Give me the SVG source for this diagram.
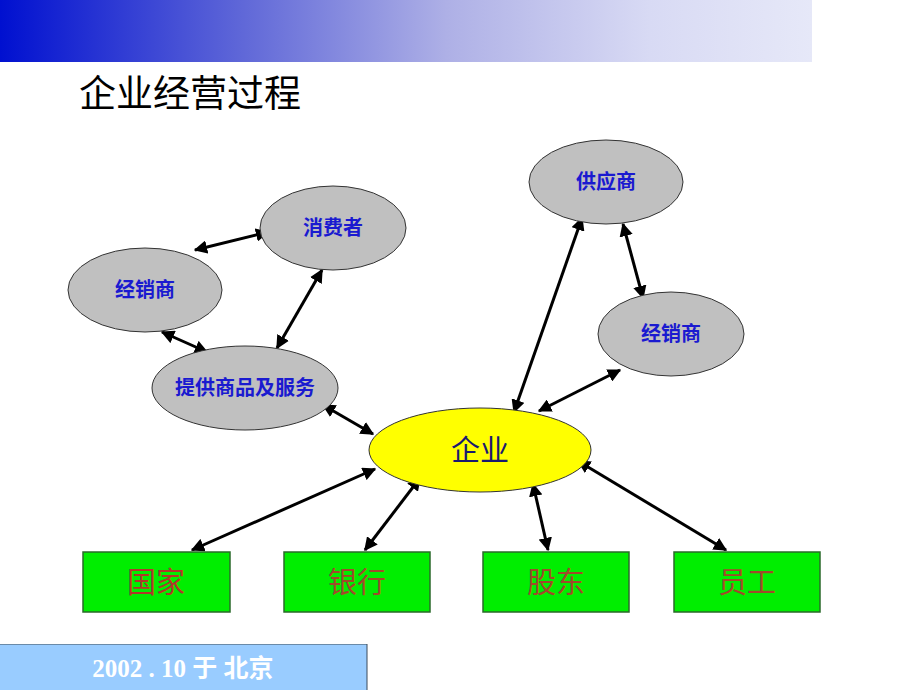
<svg xmlns="http://www.w3.org/2000/svg" width="920" height="690" viewBox="0 0 920 690">
<style>
.oval{fill:#c0c0c0;stroke:#333;stroke-width:1}
.ot{font-family:"Noto Sans CJK SC","Noto Sans",sans-serif;font-size:20px;fill:#1a1ad0;text-anchor:middle;font-weight:bold}
.box{fill:#00ee00;stroke:#2a6a2a;stroke-width:1.5}
.bt{font-family:"Noto Sans CJK SC","Noto Sans",sans-serif;font-size:29px;fill:#a04a2a;text-anchor:middle}
.c{stroke:#000;stroke-width:3;fill:none;marker-start:url(#ah);marker-end:url(#ah)}
</style>
<defs>
<linearGradient id="tg" x1="0" y1="0" x2="1" y2="0">
<stop offset="0" stop-color="#0010d0"/>
<stop offset="0.3" stop-color="#6068d8"/>
<stop offset="0.55" stop-color="#aeb0e6"/>
<stop offset="0.8" stop-color="#d8daf4"/>
<stop offset="1" stop-color="#e6e8f8"/>
</linearGradient>
<marker id="ah" viewBox="0 0 10 10" refX="9" refY="5" markerWidth="4.5" markerHeight="4.5" orient="auto-start-reverse" markerUnits="strokeWidth">
<path d="M0,0 L10,5 L0,10 z" fill="#000"/>
</marker>
</defs>
<rect x="0" y="0" width="812" height="62" fill="url(#tg)"/>
<text x="79" y="107" font-family="Noto Sans CJK SC,Noto Sans,sans-serif" font-size="37" fill="#000">企业经营过程</text>
<g id="connectors">
<line class="c" x1="195" y1="250" x2="268" y2="232"/>
<line class="c" x1="322" y1="270" x2="277" y2="348"/>
<line class="c" x1="162" y1="332" x2="207" y2="352"/>
<line class="c" x1="323" y1="405" x2="373" y2="434"/>
<line class="c" x1="514" y1="412" x2="582" y2="218"/>
<line class="c" x1="623" y1="224" x2="643" y2="298"/>
<line class="c" x1="539" y1="411" x2="620" y2="370"/>
<line class="c" x1="375" y1="469" x2="192" y2="550"/>
<line class="c" x1="420" y1="478" x2="365" y2="550"/>
<line class="c" x1="533" y1="484" x2="548" y2="550"/>
<line class="c" x1="578" y1="461" x2="726" y2="550"/>
</g>
<g id="xiaofeizhe"><ellipse class="oval" cx="333" cy="228" rx="73" ry="42"/><text class="ot" x="333" y="235">消费者</text></g>
<g id="jingxiaoshang1"><ellipse class="oval" cx="145" cy="290" rx="77" ry="42"/><text class="ot" x="145" y="297">经销商</text></g>
<g id="tigong"><ellipse class="oval" cx="245" cy="388" rx="93" ry="42"/><text class="ot" x="245" y="395">提供商品及服务</text></g>
<g id="gongyingshang"><ellipse class="oval" cx="606" cy="182" rx="77" ry="42"/><text class="ot" x="606" y="189">供应商</text></g>
<g id="jingxiaoshang2"><ellipse class="oval" cx="671" cy="334" rx="73" ry="42"/><text class="ot" x="671" y="341">经销商</text></g>
<g id="qiye"><ellipse cx="480" cy="450" rx="111" ry="42" fill="#ffff00" stroke="#333" stroke-width="1"/><text x="480" y="461" font-family="Noto Sans CJK SC,Noto Sans,sans-serif" font-size="29" fill="#1a1a70" text-anchor="middle">企业</text></g>
<g id="guojia"><rect class="box" x="83" y="552" width="147" height="60"/><text class="bt" x="156" y="593" style="fill:#b0382a">国家</text></g>
<g id="yinhang"><rect class="box" x="284" y="552" width="146" height="60"/><text class="bt" x="357" y="593">银行</text></g>
<g id="gudong"><rect class="box" x="483" y="552" width="146" height="60"/><text class="bt" x="556" y="593">股东</text></g>
<g id="yuangong"><rect class="box" x="674" y="552" width="146" height="60"/><text class="bt" x="747" y="593">员工</text></g>
<g id="footer">
<rect x="0" y="644" width="367" height="46" fill="#99ccff"/>
<line x1="0" y1="644.5" x2="367" y2="644.5" stroke="#6a8aa8" stroke-width="1"/>
<line x1="367" y1="644" x2="367" y2="690" stroke="#3a4a5a" stroke-width="1"/>
<text x="183" y="677" font-family="Liberation Serif,Noto Sans CJK SC,serif" font-size="25" font-weight="bold" fill="#ffffff" text-anchor="middle">2002 . 10 于 北京</text>
</g>
</svg>
